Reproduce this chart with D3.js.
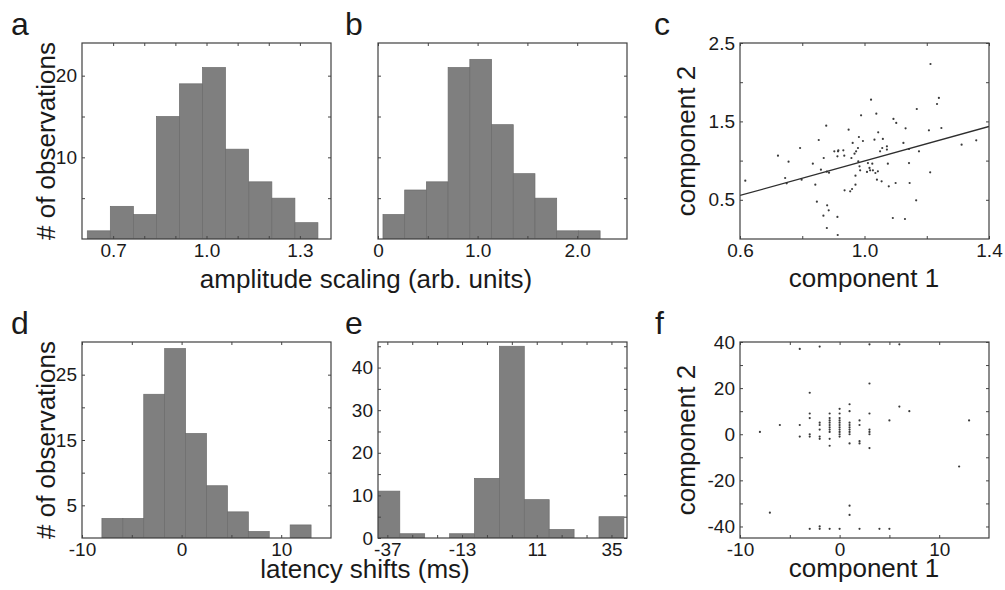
<!DOCTYPE html>
<html>
<head>
<meta charset="utf-8">
<script src="https://cdn.jsdelivr.net/npm/d3@7"></script>
<style>
body { margin: 0; background: #fff; }
text { font-family: "Liberation Sans", Arial, sans-serif; fill: #1a1a1a; }
</style>
</head>
<body>
<svg id="fig" width="1005" height="590"></svg>
<script>
// histogram a: amplitude scaling, component 1
var aCenters = [0.654, 0.728, 0.802, 0.876, 0.950, 1.024, 1.098, 1.173, 1.247, 1.321];
var aCounts = [1, 4, 3, 15, 19, 21, 11, 7, 5, 2];
var aXTicks = [0.7, 0.8, 0.9, 1.0, 1.1, 1.2, 1.3];
var aXLabels = ["0.7", "", "", "1.0", "", "", "1.3"];
var aYTicks = [5, 10, 15, 20];
var aYLabels = ["", "10", "", "20"];

// histogram b: amplitude scaling, component 2
var bCenters = [0.159, 0.377, 0.595, 0.813, 1.031, 1.249, 1.467, 1.685, 1.903, 2.121];
var bCounts = [3, 6, 7, 21, 22, 14, 8, 5, 1, 1];
var bXTicks = [0, 0.5, 1.0, 1.5, 2.0];
var bXLabels = ["0", "", "1.0", "", "2.0"];
var bYTicks = [5, 10, 15, 20];
var bYLabels = ["", "", "", ""];

// scatter c: amplitude scaling, comp 1 vs comp 2
var cComp1 = [0.617,0.722,0.756,0.745,0.750,0.793,0.798,0.834,0.842,0.847,0.853,0.860,0.869,0.879,0.886,0.868,0.880,0.885,0.879,0.877,
  0.903,0.913,0.914,0.913,0.915,0.916,0.932,0.935,0.936,0.949,0.954,0.960,0.958,0.962,0.968,0.971,0.971,0.973,0.979,0.982,
  0.984,0.989,0.995,0.986,0.980,1.008,1.011,1.016,1.021,1.025,1.018,1.027,1.032,1.038,1.035,1.040,1.044,1.043,1.050,1.055,
  1.059,1.057,1.072,1.072,1.075,1.078,1.091,1.093,1.102,1.100,1.125,1.130,1.132,1.143,1.145,1.143,1.166,1.168,1.175,1.207,
  1.211,1.212,1.233,1.239,1.247,1.312,1.359];
var cComp2 = [0.744,1.063,0.986,0.778,0.710,1.161,0.757,0.961,0.693,0.476,1.263,0.884,1.033,0.859,0.846,0.298,0.429,0.366,0.140,1.446,
  1.118,1.054,0.051,0.281,1.118,1.130,1.131,1.063,0.621,1.395,0.608,0.638,1.033,1.225,1.088,0.808,0.693,1.118,1.161,1.301,
  0.927,1.578,1.250,0.876,0.990,0.855,0.969,0.906,1.777,0.961,0.876,0.876,1.267,1.599,0.842,0.757,1.361,0.863,1.118,0.736,
  1.276,1.161,1.140,1.182,0.961,0.672,0.268,1.531,1.480,0.714,1.225,0.255,1.412,0.969,0.714,1.148,0.493,1.658,1.118,1.386,
  0.850,2.232,1.722,1.799,1.416,1.203,1.259];
var cFitSlope = 1.1;
var cFitIntercept = -0.105;
var cXTicks = [0.6, 0.8, 1.0, 1.2, 1.4];
var cXLabels = ["0.6", "", "1.0", "", "1.4"];
var cYTicks = [0.5, 1.0, 1.5, 2.0, 2.5];
var cYLabels = ["0.5", "", "1.5", "", "2.5"];

// histogram d: latency shifts, component 1
var dCenters = [-6.95, -4.85, -2.75, -0.65, 1.45, 3.55, 5.65, 7.75, 9.85, 11.95];
var dCounts = [3, 3, 22, 29, 16, 8, 4, 1, 0, 2];
var dXTicks = [-10, -5, 0, 5, 10];
var dXLabels = ["-10", "", "0", "", "10"];
var dYTicks = [5, 10, 15, 20, 25];
var dYLabels = ["5", "", "15", "", "25"];

// histogram e: latency shifts, component 2
var eCenters = [-37, -29, -21, -13, -5, 3, 11, 19, 27, 35];
var eCounts = [11, 1, 0, 1, 14, 45, 9, 2, 0, 5];
var eXTicks = [-37, -29, -21, -13, -5, 3, 11, 19, 27, 35];
var eXLabels = ["-37", "", "", "-13", "", "", "11", "", "", "35"];
var eYTicks = [0, 5, 10, 15, 20, 25, 30, 35, 40, 45];
var eYLabels = ["0", "", "10", "", "20", "", "30", "", "40", ""];

// scatter f: latency shifts, comp 1 vs comp 2
var fComp1 = [-8,-7,-6,-4,-2,-4,-4,-3,-3,-3,-3,-3,-2,-2,-2,-2,-2,-1,-1,-1,-1,-1,-1,-1,-1,-1,-1,
  0,0,0,0,0,0,0,0,0,0,0,1,1,1,1,1,1,1,1,1,2,2,2,2,3,3,3,3,3,3,5,6,7,12,13,1,1,-3,-2,-2,-1,0,2,4,5,3,6];
var fComp2 = [1,-34,4,37,38,4,-1,18,9,7,0,-1,5,4,2,-1,-2,9,7,6,5,4,3,2,1,-2,-5,
  11,9,7,6,5,4,3,2,1,0,-1,13,10,5,4,3,2,1,0,-4,6,4,-3,-4,22,9,2,1,0,-6,6,12,10,-14,6,-31,-35,-41,-40,-41,-41,-41,-41,-41,-41,39,39];
var fXTicks = [-10, -5, 0, 5, 10];
var fXLabels = ["-10", "", "0", "", "10"];
var fYTicks = [-40, -30, -20, -10, 0, 10, 20, 30, 40];
var fYLabels = ["-40", "", "-20", "", "0", "", "20", "", "40"];

var W = 249, H = 196;
var svg = d3.select("#fig");

function panel(o) {
    var g = svg.append("g").attr("transform", "translate(" + o.left + "," + o.top + ")");
    var x = d3.scaleLinear().domain(o.xDomain).range([0, W]);
    var y = d3.scaleLinear().domain(o.yDomain).range([H, 0]);

    var clipId = "clip" + o.name;
    g.append("clipPath").attr("id", clipId)
        .append("rect").attr("width", W).attr("height", H);
    var plot = g.append("g").attr("clip-path", "url(#" + clipId + ")");

    if (o.counts) {
        var step = o.centers[1] - o.centers[0];
        var bins = o.centers.map(function(c, i) { return {c: c, n: o.counts[i]}; })
            .filter(function(d) { return d.n > 0; });
        plot.selectAll("rect.bar")
            .data(bins)
            .enter()
            .append("rect")
            .attr("class", "bar")
            .attr("x", function(d) { return x(d.c - step / 2); })
            .attr("width", function(d) { return x(d.c + step / 2) - x(d.c - step / 2); })
            .attr("y", function(d) { return y(d.n); })
            .attr("height", function(d) { return H - y(d.n); })
            .attr("fill", "#7f7f7f")
            .attr("stroke", "#6c6c6c")
            .attr("stroke-width", 0.7);
    }
    if (o.px) {
        plot.selectAll("circle")
            .data(o.px.map(function(v, i) { return [v, o.py[i]]; }))
            .enter()
            .append("circle")
            .attr("cx", function(d) { return x(d[0]); })
            .attr("cy", function(d) { return y(d[1]); })
            .attr("r", 1.1)
            .attr("fill", "#3a3a3a");
    }
    if (o.fit) {
        var line = d3.line()
            .x(function(d) { return x(d); })
            .y(function(d) { return y(o.fit[0] * d + o.fit[1]); });
        plot.append("path")
            .attr("d", line(o.xDomain))
            .attr("fill", "none")
            .attr("stroke", "#2e2e2e")
            .attr("stroke-width", 1.3);
    }

    function fmt(labels) { return function(d, i) { return labels[i]; }; }

    var axes = [
        [d3.axisBottom(x).tickValues(o.xTicks).tickFormat(fmt(o.xLabels)), "translate(0," + H + ")", true],
        [d3.axisTop(x).tickValues(o.xTicks).tickFormat(""), "translate(0,0)", false],
        [d3.axisLeft(y).tickValues(o.yTicks).tickFormat(fmt(o.yLabels)), "translate(0,0)", true],
        [d3.axisRight(y).tickValues(o.yTicks).tickFormat(""), "translate(" + W + ",0)", false]
    ];
    axes.forEach(function(a) {
        var ax = g.append("g")
            .attr("transform", a[1])
            .call(a[0].tickSizeInner(-3).tickSizeOuter(0).tickPadding(a[2] ? 5 : 0));
        ax.select(".domain").remove();
        ax.selectAll("line").attr("stroke", "#444").attr("stroke-width", 1);
        ax.selectAll("text").attr("font-size", 19).attr("fill", "#1a1a1a")
            .attr("font-family", "Liberation Sans, Arial, sans-serif");
    });

    g.append("rect")
        .attr("width", W).attr("height", H)
        .attr("fill", "none")
        .attr("stroke", "#404040")
        .attr("stroke-width", 1.2);

    svg.append("text")
        .attr("x", o.letterX)
        .attr("y", o.top - 8)
        .attr("font-size", 32)
        .text(o.name);
}

panel({name: "a", letterX: 11, left: 82, top: 43, xDomain: [0.6, 1.4], yDomain: [0, 24],
    centers: aCenters, counts: aCounts, xTicks: aXTicks, xLabels: aXLabels, yTicks: aYTicks, yLabels: aYLabels});
panel({name: "b", letterX: 345, left: 378, top: 43, xDomain: [0, 2.5], yDomain: [0, 24],
    centers: bCenters, counts: bCounts, xTicks: bXTicks, xLabels: bXLabels, yTicks: bYTicks, yLabels: bYLabels});
panel({name: "c", letterX: 654, left: 740, top: 43, xDomain: [0.6, 1.4], yDomain: [0, 2.5],
    px: cComp1, py: cComp2, fit: [cFitSlope, cFitIntercept],
    xTicks: cXTicks, xLabels: cXLabels, yTicks: cYTicks, yLabels: cYLabels});
panel({name: "d", letterX: 11, left: 82, top: 342, xDomain: [-10, 15], yDomain: [0, 30],
    centers: dCenters, counts: dCounts, xTicks: dXTicks, xLabels: dXLabels, yTicks: dYTicks, yLabels: dYLabels});
panel({name: "e", letterX: 345, left: 378, top: 342, xDomain: [-40, 40], yDomain: [0, 46],
    centers: eCenters, counts: eCounts, xTicks: eXTicks, xLabels: eXLabels, yTicks: eYTicks, yLabels: eYLabels});
panel({name: "f", letterX: 655, left: 740, top: 342, xDomain: [-10, 15], yDomain: [-45, 40],
    px: fComp1, py: fComp2,
    xTicks: fXTicks, xLabels: fXLabels, yTicks: fYTicks, yLabels: fYLabels});

// axis titles
var titles = [
    ["amplitude scaling (arb. units)", 366, 288, 0],
    ["component 1", 864, 287, 0],
    ["latency shifts (ms)", 365, 578, 0],
    ["component 1", 864, 577, 0],
    ["# of observations", 55, 141, -90],
    ["component 2", 695, 141, -90],
    ["# of observations", 55, 440, -90],
    ["component 2", 695, 440, -90]
];
svg.selectAll("text.title")
    .data(titles)
    .enter()
    .append("text")
    .attr("class", "title")
    .attr("text-anchor", "middle")
    .attr("font-size", 26)
    .attr("transform", function(d) { return "translate(" + d[1] + "," + d[2] + ") rotate(" + d[3] + ")"; })
    .text(function(d) { return d[0]; });
</script>
</body>
</html>
